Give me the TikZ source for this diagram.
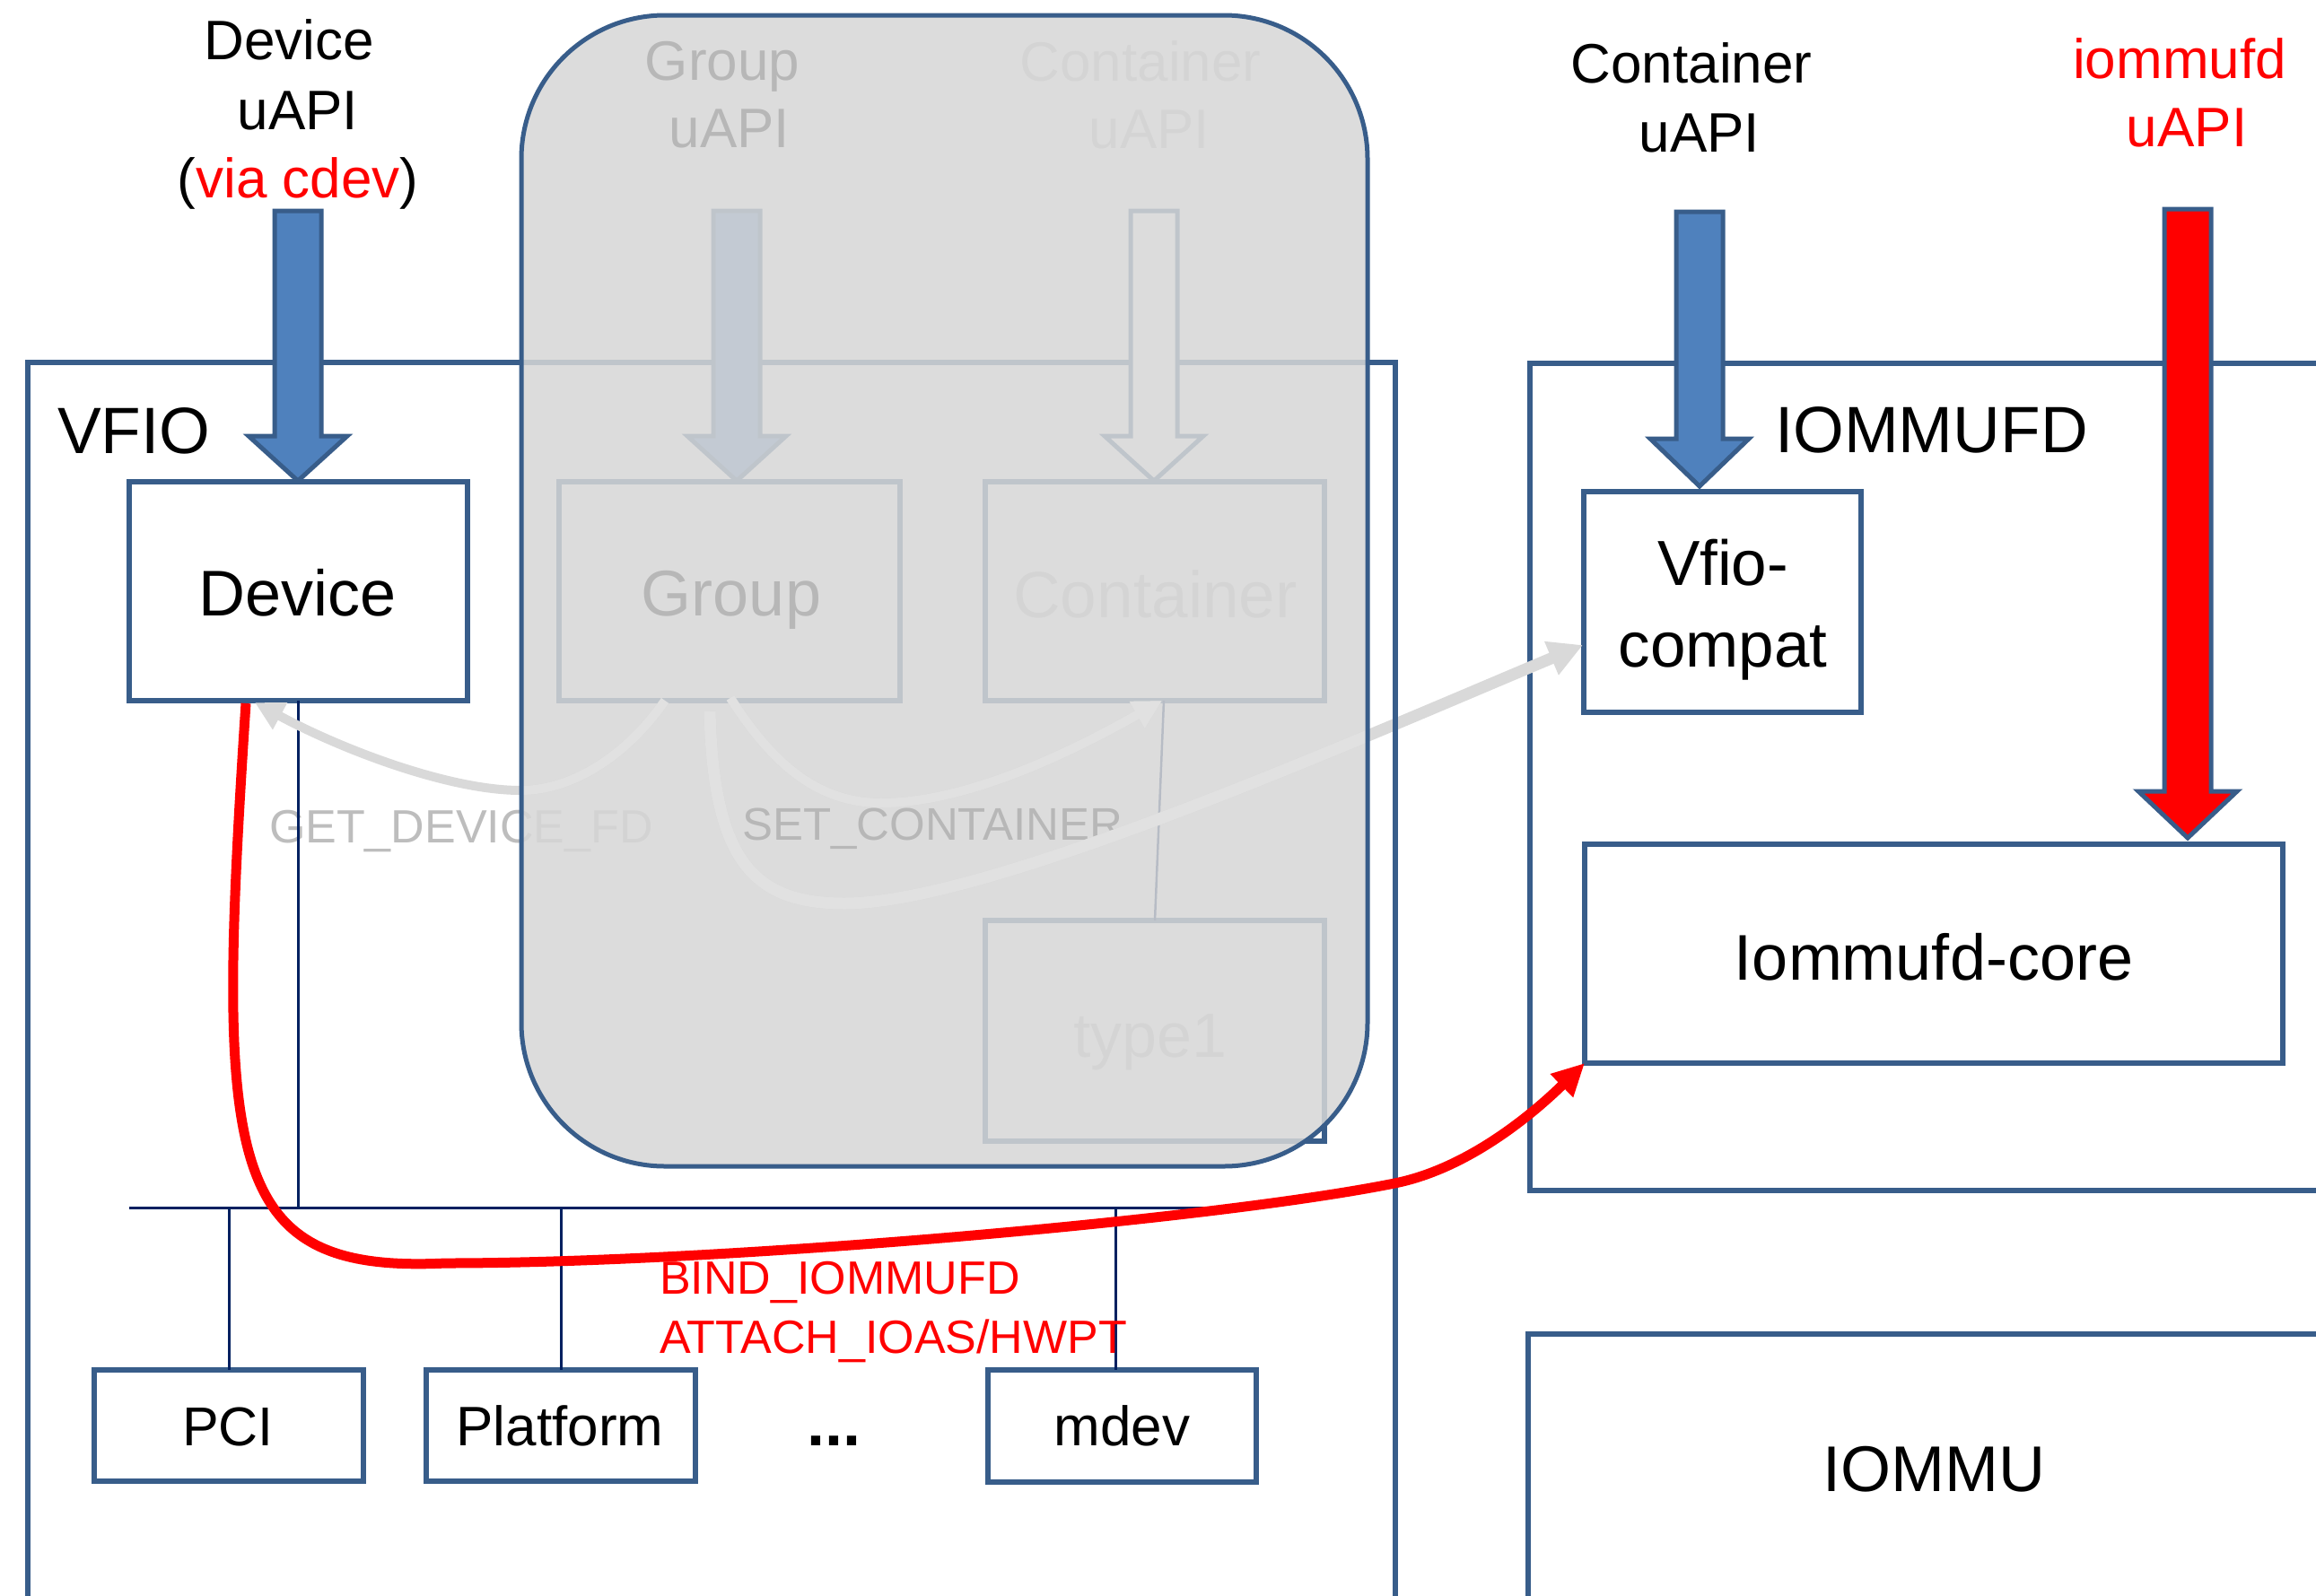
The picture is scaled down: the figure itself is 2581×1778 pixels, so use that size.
\documentclass[tikz,border=0pt]{standalone}
\usepackage{fontspec}
\setmainfont{Liberation Sans}
\usetikzlibrary{arrows.meta,calc}
\definecolor{bdr}{HTML}{385D8A}
\definecolor{bfill}{HTML}{4F81BD}
\definecolor{navy}{HTML}{002060}
\definecolor{lgt}{HTML}{C8C8C8}
\definecolor{gtx}{HTML}{BDBDBD}
\definecolor{garr}{HTML}{D9D9D9}
\definecolor{garrin}{HTML}{E1E1E1}
\definecolor{ovl}{HTML}{D7D7D7}
\newcommand\fsz[1]{\fontsize{#1}{#1}\selectfont}
% style, x, ytop, ytip, headlen
\newcommand\blockarrow[5]{%
  \draw[#1] (#2,#4) -- (#2-55,#4-#5) -- (#2-26,#4-#5) -- (#2-26,#3) -- (#2+26,#3)
    -- (#2+26,#4-#5) -- (#2+55,#4-#5) -- cycle;}
\begin{document}
\begin{tikzpicture}[x=1pt,y=-1pt,
  box/.style={draw=bdr,line width=6pt,inner sep=0pt,outer sep=0pt},
  lbl/.style={anchor=base,inner sep=0pt,outer sep=0pt},
  lblw/.style={anchor=base west,inner sep=0pt,outer sep=0pt},
  busline/.style={draw=navy,line width=3pt},
  barr/.style={draw=bdr,line width=5pt,fill=bfill,line join=miter},
  garrow/.style={draw=garr,line width=10pt,-{Triangle[length=32pt,width=32pt]}},
  garrowin/.style={draw=garrin,line width=10pt,-{Triangle[length=32pt,width=32pt]}},
  ]
\clip (0,0) rectangle (2581,1778);
\fill[white] (0,0) rectangle (2581,1778);

% ---- outer containers
\node[box,minimum width=1524pt,minimum height=1396pt] (vfio) at (793,1102) {};
\node[box,minimum width=895pt,minimum height=922pt] (iommufd) at (2152.5,866) {};
\node[box,minimum width=897pt,minimum height=313pt] (iommu) at (2151.5,1643.5) {};

% ---- boxes
\node[box,minimum width=377pt,minimum height=244pt] (device) at (332.5,659) {};
\node[box,minimum width=380pt,minimum height=244pt] (group) at (813,659) {};
\node[box,minimum width=378pt,minimum height=244pt] (container) at (1287,659) {};
\node[box,minimum width=378pt,minimum height=246pt] (type1) at (1287,1149) {};
\node[box,minimum width=300pt,minimum height=124pt] (pci) at (255,1589) {};
\node[box,minimum width=300pt,minimum height=124pt] (platform) at (625,1589) {};
\node[box,minimum width=299pt,minimum height=125pt] (mdev) at (1250.5,1589.5) {};
\node[box,minimum width=309pt,minimum height=246pt] (vfiocompat) at (1919.5,671) {};
\node[box,minimum width=778pt,minimum height=244pt] (core) at (2155,1063) {};

% ---- texts
\node[lbl,font=\fsz{62}] (devapi1) at (322,66) {Device};
\node[lbl,font=\fsz{62}] (devapi2) at (332,144) {uAPI};
\node[lbl,font=\fsz{62}] (devapi3) at (332,220) {(\textcolor{red}{via cdev})};
\node[lbl,font=\fsz{62}] (grpapi1) at (805,89) {Group};
\node[lbl,font=\fsz{62}] (grpapi2) at (813,164) {uAPI};
\node[lbl,font=\fsz{62},text=lgt] (ctrapi1) at (1271,90) {Container};
\node[lbl,font=\fsz{62},text=lgt] (ctrapi2) at (1281,165) {uAPI};
\node[lbl,font=\fsz{62}] (ctrapiR1) at (1885,92) {Container};
\node[lbl,font=\fsz{62}] (ctrapiR2) at (1894,169) {uAPI};
\node[lbl,font=\fsz{62},text=red] (iofdapi1) at (2429,87) {iommufd};
\node[lbl,font=\fsz{62},text=red] (iofdapi2) at (2437,163) {uAPI};
\node[lblw,font=\fsz{73}] (vfiotxt) at (64,505) {VFIO};
\node[lblw,font=\fsz{73}] (iommufdtxt) at (1978,504) {IOMMUFD};
\node[lbl,font=\fsz{72}] (devicetxt) at (332,686) {Device};
\node[lbl,font=\fsz{72}] (grouptxt) at (815,686) {Group};
\node[lbl,font=\fsz{73},text=lgt] (containertxt) at (1287.5,688) {Container};
\node[lbl,font=\fsz{70},text=lgt] (type1txt) at (1282,1178) {type1};
\node[lbl,font=\fsz{71}] (vc1) at (1920,652) {Vfio-};
\node[lbl,font=\fsz{71}] (vc2) at (1920,743) {compat};
\node[lbl,font=\fsz{72}] (coretxt) at (2155,1092) {Iommufd-core};
\node[lbl,font=\fsz{72}] (iommutxt) at (2155,1662) {IOMMU};
\node[lbl,font=\fsz{61}] (pcitxt) at (254,1611) {PCI};
\node[lbl,font=\fsz{62}] (platformtxt) at (624,1611) {Platform};
\node[lbl,font=\fsz{62}] (mdevtxt) at (1250.5,1611) {mdev};
\node[lbl,font=\fsz{72}] (dots) at (929,1611) {\textbf{...}};
\node[lblw,font=\fsz{52},text=gtx] (getfd) at (300,939) {GET\_DEVICE\_FD};
\node[lblw,font=\fsz{51}] (setctr) at (827,936) {SET\_CONTAINER};

% ---- bus lines
\coordinate (busL) at (144,1346);
\coordinate (busR) at (1353,1346);
\coordinate (mdevtop) at (1243,1527);
\draw[busline] (busL) -- (busR);
\draw[busline] (device.south) -- (device.south |- busL);
\draw[busline] (pci.north) -- (pci.north |- busL);
\draw[busline] (platform.north) -- (platform.north |- busL);
\draw[busline] (mdevtop) -- (mdevtop |- busL);
\draw[draw=navy,line width=2.5pt] ([xshift=10pt]container.south) -- (type1.north);

% ---- block arrows
\blockarrow{barr}{332}{235}{536}{50}
\blockarrow{barr}{821}{235}{536}{50}
\blockarrow{barr,fill=white}{1286}{235}{536}{50}
\blockarrow{barr}{1894}{236}{542}{53}
\blockarrow{barr,fill=red}{2438}{233}{934}{52}

% ---- legacy overlay
\node[fill=ovl,fill opacity=0.855,rounded corners=160pt,minimum width=943pt,
  minimum height=1283pt,inner sep=0pt,outer sep=0pt] (legacy) at (1052.5,658.5) {};

% ---- grey arrows
\coordinate (gdfS) at (741,781);
\coordinate (gdfE) at (284,783);
\coordinate (scS) at (814,778);
\coordinate (scE) at (1295,781);
\coordinate (vcS) at (791,793);
\coordinate (vcE) at (1764,719);
\draw[garrow] (gdfS) .. controls (700,840) and (640,881) .. (580,881)
  .. controls (500,881) and (380,835) .. (gdfE);
\draw[garrow] (scS) .. controls (860,850) and (910,895) .. (982,895)
  .. controls (1080,895) and (1200,835) .. (scE);
\draw[garrow,line width=13pt,-{Triangle[length=38pt,width=38pt]}] (vcS)
  .. controls (795,960) and (840,1007) .. (941,1007)
  .. controls (1100,1007) and (1500,830) .. (vcE);
\begin{scope}
  \clip[rounded corners=160pt] (legacy.north west) rectangle (legacy.south east);
  \draw[garrowin] (gdfS) .. controls (700,840) and (640,881) .. (580,881)
    .. controls (500,881) and (380,835) .. (gdfE);
  \draw[garrowin] (scS) .. controls (860,850) and (910,895) .. (982,895)
    .. controls (1080,895) and (1200,835) .. (scE);
  \draw[garrowin,line width=13pt,-{Triangle[length=38pt,width=38pt]}] (vcS)
    .. controls (795,960) and (840,1007) .. (941,1007)
    .. controls (1100,1007) and (1500,830) .. (vcE);
\end{scope}
\draw[draw=bdr,line width=5pt,rounded corners=160pt] (legacy.north west) rectangle (legacy.south east);
\draw[draw=bdr,line width=6pt] (vfio.north east) -- (vfio.south east);

% ---- red bind arrow
\coordinate (bindS) at (274,784);
\draw[red,line width=11pt,-{Triangle[length=36pt,width=34pt]}] (bindS)
  .. controls (240,1300) and (250,1420) .. (497,1408)
  .. controls (800,1408) and (1350,1360) .. (1554,1319)
  .. controls (1640,1302) and (1715,1235) .. (core.south west);
\node[lblw,font=\fsz{52},text=red] (bind1) at (735,1442) {BIND\_IOMMUFD};
\node[lblw,font=\fsz{52},text=red] (bind2) at (735,1508) {ATTACH\_IOAS/HWPT};
\end{tikzpicture}
\end{document}
